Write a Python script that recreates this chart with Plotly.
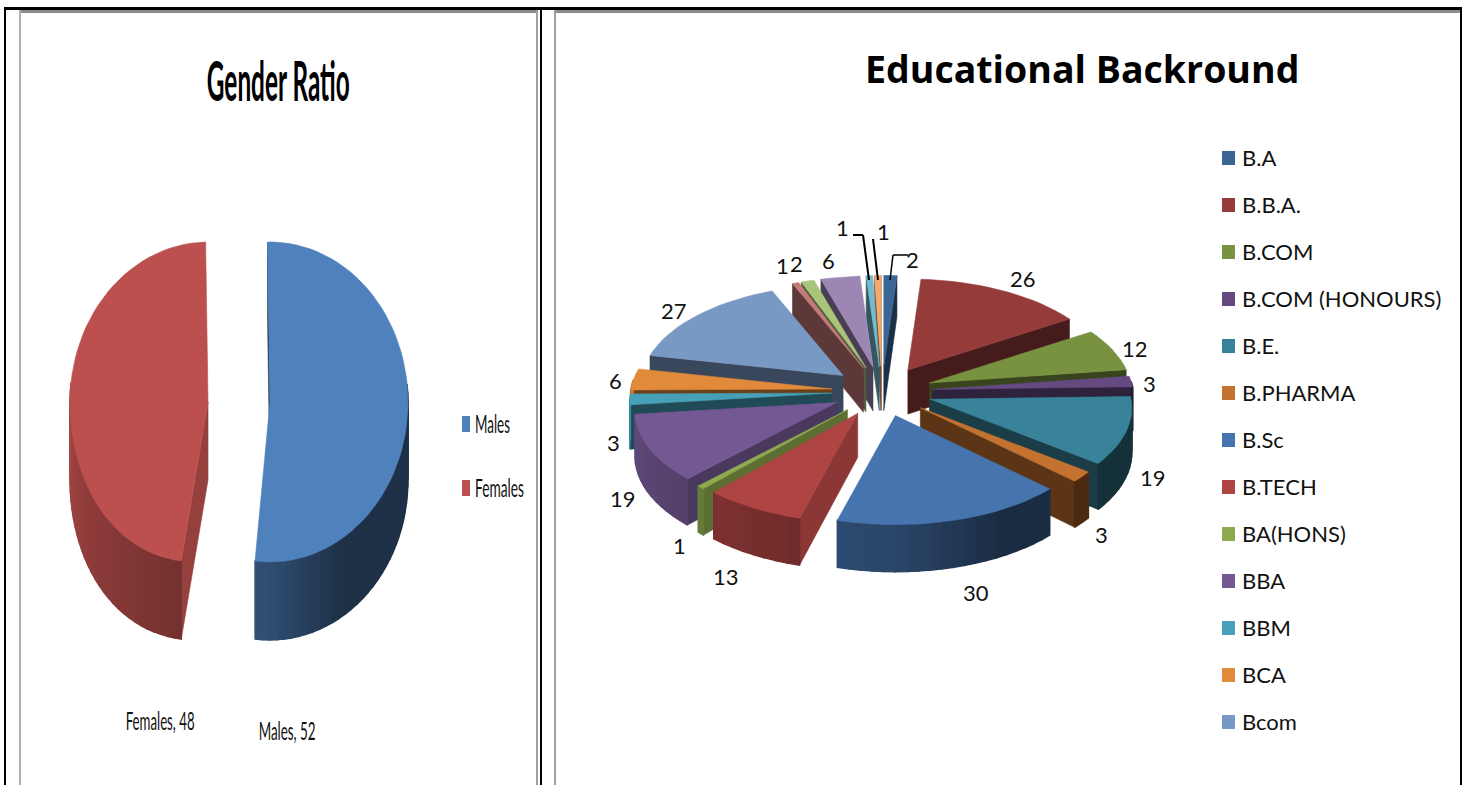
import json
import math
import plotly.graph_objects as go

# ---------- data ----------
gender_labels = ["Males", "Females"]
gender_values = [52, 48]
gender_colors = ["#4f81bd", "#bc504e"]

edu_legend = ["B.A", "B.B.A.", "B.COM", "B.COM (HONOURS)", "B.E.", "B.PHARMA", "B.Sc", "B.TECH",
              "BA(HONS)", "BBA", "BBM", "BCA", "Bcom"]
edu_values = [2, 26, 12, 3, 19, 3, 30, 13, 1, 19, 3, 6, 27, 1, 2, 6, 1, 1]
edu_colors = ["#3a6595", "#953b3a", "#78923f", "#644a80", "#388399", "#c4722f",
              "#4674ae", "#ae4543", "#8eaa4e", "#735893", "#45a0b8", "#e28a3b",
              "#7899c3", "#c47a78", "#aac47a", "#9c86b3", "#73bbd0", "#f5a96b"]

# ---------- label placement (pixels) ----------
edu_label_x = [912, 1023, 1135, 1149, 1153, 1101, 976, 726, 679, 623, 613, 615, 674, 782, 796, 828, 883, 842]
edu_label_y = [259, 278, 348, 383, 477, 534, 592, 576, 545, 498, 442, 380, 310, 265, 263, 260, 231, 227]
FONT = "Lato, Open Sans, sans-serif"

# printed widths of the squeezed labels in the left panel (pixels)
squeeze_widths = {"Gender Ratio": 143, "Females, 48": 69, "Males, 52": 57, "Males": 35, "Females": 49}

fig = go.Figure()


def shade(c, f):
    r, g, b = int(c[1:3], 16), int(c[3:5], 16), int(c[5:7], 16)
    return "rgb(%d,%d,%d)" % (r * f, g * f, b * f)


def poly(xs, ys, color, width=0.6):
    fig.add_trace(go.Scatter(x=xs, y=ys, mode="lines", fill="toself", fillcolor=color,
                             line=dict(color=color, width=width), hoverinfo="skip", showlegend=False))


def wall_factor(t):
    t = t % 360
    if t < 150:
        return 0.38
    if t < 180:
        return 0.38 + (t - 150) / 30 * 0.22
    return min(0.88, 0.6 + (t - 180) / 90 * 0.26)


def face_factor(t):
    t = t % 360
    if 170 < t < 215:
        return 0.8
    if 215 <= t < 260:
        return 0.65
    return 0.47


def pie3d(values, colors, cx, cy, rx, ry, ex, ey, depth, persp=0.0, dpersp=0.0, start=0.0, bends=None):
    total = sum(values)
    spans, a = [], start
    for v in values:
        spans.append((a, a + v / total * 360))
        a += v / total * 360
    order = sorted(range(len(values)), key=lambda i: -math.cos(math.radians(sum(spans[i]) / 2)))
    for i in order:
        a0, a1 = spans[i]
        mid = math.radians((a0 + a1) / 2)
        ax, ay = cx + ex * math.sin(mid), cy - ey * math.cos(mid)
        bend = bends[i] if bends else 0

        def pt(t):
            r = math.radians(t)
            s = 1 - persp * math.cos(r)
            y = ay - ry * s * math.cos(r)
            x = ax + rx * s * math.sin(r) - bend * max(0, (y - ay) / ry) ** 2
            return x, y, depth * (1 - dpersp * math.cos(r))

        col = colors[i]
        n = max(2, int((a1 - a0) / 3))
        ts = [a0 + (a1 - a0) * k / n for k in range(n + 1)]
        arc = [pt(t) for t in ts]
        # radial faces that the view can see
        mx, my = pt((a0 + a1) / 2)[:2]
        for t in (a0, a1):
            px, py, d = pt(t)
            ex_, ey_ = px - ax, py - ay
            side_in = ex_ * (my - ay) - ey_ * (mx - ax)
            if ex_ * side_in < 0:
                poly([ax, px, px, ax, ax], [ay, py, py + d, ay + depth, ay], shade(col, face_factor(t)))
        # outer wall, cut in strips for the gradient
        for k in range(n):
            t0, t1 = ts[k], ts[k + 1]
            if -math.cos(math.radians((t0 + t1) / 2)) < -0.1:
                continue
            p, q = arc[k], arc[k + 1]
            poly([p[0], q[0], q[0], p[0], p[0]], [p[1], q[1], q[1] + q[2], p[1] + p[2], p[1]],
                 shade(col, wall_factor((t0 + t1) / 2)), width=1.4)
        # top face
        poly([ax] + [p[0] for p in arc] + [ax], [ay] + [p[1] for p in arc] + [ay], col)


pie3d(gender_values, gender_colors, 239, 402, 138, 160, 31, 0, 78, start=-1, bends=[0, 12])
pie3d(edu_values, edu_colors, 882, 391.5, 201, 100, 50.5, 25, 44, persp=0.09, dpersp=0.07)

annotations = []


def text(x, y, s, size, font=FONT, color="#111111", anchor="center"):
    annotations.append(dict(x=x, y=y, text=s, showarrow=False, xanchor=anchor, yanchor="middle",
                            font=dict(family=font, size=size, color=color)))


shapes = []


def seg(pts, color="black", width=2):
    for (x0, y0), (x1, y1) in zip(pts, pts[1:]):
        shapes.append(dict(type="line", x0=x0, y0=y0, x1=x1, y1=y1, line=dict(color=color, width=width)))


def rect(x0, y0, x1, y1, color):
    shapes.append(dict(type="rect", x0=x0, y0=y0, x1=x1, y1=y1, fillcolor=color, line=dict(width=0)))


# frames
rect(4, 7, 1462, 10, "black")
rect(4, 7, 6, 785, "black")
rect(540, 7, 542, 785, "black")
rect(1460, 7, 1462, 785, "black")
rect(19, 10, 538, 13, "#8c8c8c")
rect(19, 10, 21, 785, "#b0b0b0")
rect(536, 10, 538, 785, "#a0a0a0")
rect(554, 10, 1460, 13, "#8c8c8c")
rect(554, 10, 556, 785, "#a0a0a0")

# leader lines
seg([(853, 235), (863, 235), (869, 280)])
seg([(873, 239), (878, 280)])
seg([(908, 255), (893, 255), (890, 280)], width=1.5)

# titles
text(278, 79, "<b>Gender Ratio</b>", 56, color="black")
text(1082, 68, "<b>Educational Backround</b>", 37.5, font="Open Sans, sans-serif", color="black")

# gender labels and legend
text(160, 720, "Females, 48", 25)
text(287, 730, "Males, 52", 25)
for name, col, y in zip(gender_labels, gender_colors, [424, 488]):
    rect(462, y - 8, 470, y + 8, col)
    text(473, y - 1, name, 25, anchor="left")

# education labels and legend
for v, x, y in zip(edu_values, edu_label_x, edu_label_y):
    text(x, y, str(v), 22)
for k, name in enumerate(edu_legend):
    y = 158 + 47 * k
    rect(1222, y - 7, 1235, y + 7, edu_colors[k])
    text(1240, y - 1, name, 22, anchor="left")

fig.update_layout(
    width=1464, height=785, margin=dict(l=0, r=0, t=0, b=0),
    paper_bgcolor="white", plot_bgcolor="white", showlegend=False,
    xaxis=dict(range=[0, 1464], visible=False, fixedrange=True),
    yaxis=dict(range=[785, 0], visible=False, fixedrange=True),
    annotations=annotations, shapes=shapes,
)

post = """
document.body.style.margin='0';document.body.style.overflow='hidden';
var targets = %s;
document.querySelectorAll('text.annotation-text').forEach(function(el){
  var w = targets[el.textContent];
  if(!w) return;
  var b = el.getBBox();
  var left = (el.textContent === 'Males' || el.textContent === 'Females');
  var c = left ? b.x : b.x + b.width / 2;
  el.setAttribute('transform', 'translate(' + c + ',0) scale(' + (w / b.width) + ',1) translate(' + (-c) + ',0)');
});
""" % json.dumps(squeeze_widths)
fig.write_html("out.html", config={"displayModeBar": False}, post_script=post)
